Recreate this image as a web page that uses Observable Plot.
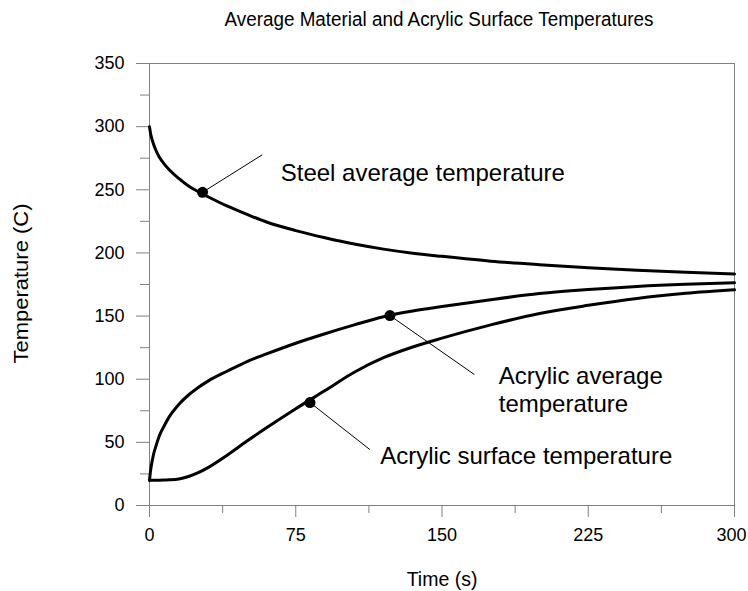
<!DOCTYPE html>
<html><head><meta charset="utf-8">
<script src="https://cdn.jsdelivr.net/npm/d3@7"></script>
<script src="https://cdn.jsdelivr.net/npm/@observablehq/plot@0.6"></script>
<style>body{margin:0;background:#fff;}</style>
</head><body><div id="chart"></div>
<script>
// Time (s)
const times = [0, 0.5, 1, 2, 3.5, 5, 7.5, 10, 15, 20, 25, 30, 40, 50, 60, 75, 90, 105, 120, 135, 150, 175, 200, 225, 250, 275, 300];
// Temperatures (C)
const steelAverage = [300, 295, 291.5, 286.5, 280.5, 276, 270.5, 266, 259, 253, 248.5, 244.5, 237, 230.5, 224.5, 217.7, 212, 207, 203, 199.8, 197.3, 193.5, 190.7, 188.3, 186.3, 184.7, 183.3];
const acrylicAverage = [20, 27, 32, 40, 48, 55, 63, 70, 80, 87.5, 93.5, 98.5, 106.5, 114, 120, 128.5, 136, 143, 149.5, 154, 157.5, 163, 167.8, 171, 173.5, 175.2, 176.3];
const acrylicSurface = [20, 20, 20, 20, 20, 20, 20.1, 20.3, 21, 23, 26, 30, 40, 51, 61.5, 76.6, 91, 105.5, 117, 125.5, 132.5, 143, 152, 158.5, 164, 168, 170.8];

const xTicks = [0, 75, 150, 225, 300];
const xEdgeTick = [300];
const xMinorTicks = [37.5, 112.5, 187.5, 262.5];
const yTicks = [0, 50, 100, 150, 200, 250, 300, 350];
const yMinorTicks = [25, 75, 125, 175, 225, 275, 325];

const titleText = "Average Material and Acrylic Surface Temperatures";
const xLabel = "Time (s)";
const yLabel = "Temperature (C)";

// callouts: marker point on curve, leader end, label anchor (data units)
const calloutLabels = ["Steel average temperature", "Acrylic average\ntemperature", "Acrylic surface temperature"];
const calloutPointT = [27.2, 123.3, 82.3];
const calloutPointV = [248, 150.4, 81.5];
const calloutEndT = [57.8, 166.6, 113];
const calloutEndV = [277.7, 103.7, 44.3];
const calloutLabelT = [67.3, 179.1, 118.3];
const calloutLabelV = [256.8, 73.9, 33];

const gray = "#808080";
const font = "'Liberation Sans', Arial, sans-serif";
const innerTicks = xTicks.filter(t => !xEdgeTick.includes(t));

const chart = Plot.plot({
  width: 748,
  height: 591,
  marginLeft: 149,
  marginRight: 14,
  marginTop: 63,
  marginBottom: 86,
  x: {domain: [0, 300]},
  y: {domain: [0, 350]},
  style: {fontFamily: font, background: "white", color: "black"},
  marks: [
    Plot.frame({stroke: gray}),
    Plot.axisX({ticks: innerTicks, tickSize: 12, tickPadding: 11, fontSize: 18, stroke: gray, fill: "black", label: null, tickFormat: d3.format("d")}),
    Plot.axisX({ticks: xEdgeTick, tickSize: 12, stroke: gray, label: null, tickFormat: () => ""}),
    Plot.axisX({ticks: xEdgeTick, tickSize: 0, tickPadding: 23, dx: -3, fontSize: 18, stroke: "none", fill: "black", label: null, tickFormat: d3.format("d")}),
    Plot.axisX({ticks: xMinorTicks, tickSize: 8, stroke: gray, label: null, tickFormat: () => ""}),
    Plot.axisY({ticks: yTicks, tickSize: 13, tickPadding: 12, fontSize: 18, stroke: gray, fill: "black", label: null, tickFormat: d3.format("d")}),
    Plot.axisY({ticks: yMinorTicks, tickSize: 9, stroke: gray, label: null, tickFormat: () => ""}),
    Plot.line(times, {x: times, y: steelAverage, stroke: "black", strokeWidth: 3, curve: "monotone-x"}),
    Plot.line(times, {x: times, y: acrylicAverage, stroke: "black", strokeWidth: 3, curve: "monotone-x"}),
    Plot.line(times, {x: times, y: acrylicSurface, stroke: "black", strokeWidth: 3, curve: "monotone-x"}),
    Plot.link(calloutLabels, {x1: calloutPointT, y1: calloutPointV, x2: calloutEndT, y2: calloutEndV, stroke: "black", strokeWidth: 1}),
    Plot.dot(calloutLabels, {x: calloutPointT, y: calloutPointV, r: 5.5, fill: "black", stroke: "none"}),
    Plot.text(calloutLabels, {x: calloutLabelT, y: calloutLabelV, text: d => d, textAnchor: "start", lineAnchor: "bottom", fontSize: 24, lineHeight: 1.19, fill: "black"}),
    Plot.text([titleText], {frameAnchor: "top", dy: -38, dx: -3, lineAnchor: "bottom", fontSize: 20, fill: "black"}),
    Plot.text([xLabel], {frameAnchor: "bottom", dy: 80, lineAnchor: "bottom", textAnchor: "middle", fontSize: 19.5, fill: "black"}),
    Plot.text([yLabel], {frameAnchor: "left", dx: -121.5, dy: -1, rotate: -90, lineAnchor: "bottom", textAnchor: "middle", fontSize: 20.5, fill: "black"})
  ]
});

d3.select(chart).selectAll("text").each(function() {
  if (this.textContent === titleText) {
    this.setAttribute("textLength", 429);
    this.setAttribute("lengthAdjust", "spacingAndGlyphs");
  }
  if (this.textContent === yLabel) {
    this.setAttribute("textLength", 160);
    this.setAttribute("lengthAdjust", "spacingAndGlyphs");
  }
});

document.getElementById("chart").appendChild(chart);
</script>
</body></html>
